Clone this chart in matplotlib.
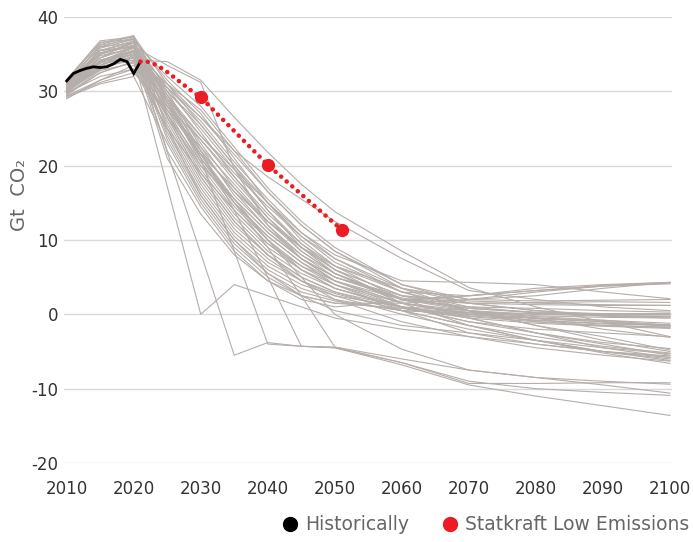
import matplotlib
matplotlib.use("Agg")
import matplotlib.pyplot as plt
from matplotlib.lines import Line2D

plt.rcParams["axes.unicode_minus"] = False

# scenario years
years = [2010, 2015, 2020, 2025, 2030, 2035, 2040, 2045, 2050, 2060, 2070, 2080, 2090, 2100]

# main bundle of scenarios, Gt CO2
bundle_upper = [
    [30.5, 34.0, 35.5, 31.0, 27.5, 22.0, 16.5, 12.0, 8.5, 4.0, 2.0, 2.5, 3.5, 4.3],
    [30.0, 33.5, 35.0, 30.0, 25.5, 20.0, 15.0, 10.5, 7.0, 3.0, 2.5, 3.2, 3.8, 4.1],
    [31.0, 35.0, 36.5, 30.5, 24.5, 18.5, 13.5, 9.5, 6.5, 3.5, 2.0, 1.8, 1.9, 2.0],
    [29.5, 32.5, 34.0, 29.0, 23.5, 18.0, 13.0, 9.0, 6.0, 2.5, 1.5, 1.6, 1.7, 1.6],
    [30.8, 34.5, 36.0, 29.5, 23.0, 17.0, 12.0, 8.0, 5.5, 2.0, 1.5, 1.3, 1.2, 1.2],
    [30.2, 34.5, 36.0, 29.5, 24.0, 19.0, 14.5, 10.5, 7.5, 3.5, 1.5, 0.5, -0.2, -0.5],
    [29.9, 33.0, 34.8, 30.5, 26.0, 20.5, 15.5, 11.0, 7.5, 3.0, 0.5, -1.0, -1.5, -1.8],
    [30.6, 35.8, 37.0, 31.5, 27.0, 21.0, 15.0, 10.0, 6.5, 2.0, -0.5, -2.5, -4.0, -5.5],
    [30.4, 34.5, 36.8, 32.0, 28.0, 22.5, 17.0, 12.5, 9.0, 4.0, 1.5, 0.5, 0.0, 0.0],
    [29.7, 32.5, 34.0, 31.0, 26.5, 21.5, 16.5, 12.0, 8.5, 3.5, 0.5, -1.5, -3.0, -4.8],
    [30.3, 34.0, 35.8, 28.0, 23.5, 18.5, 13.0, 8.5, 5.5, 2.0, 0.8, 0.2, -0.2, -0.3],
    [31.1, 35.5, 36.0, 30.0, 25.0, 19.5, 14.0, 9.5, 6.0, 1.5, -1.5, -3.5, -5.0, -6.2],
    [30.9, 36.3, 37.4, 31.0, 25.5, 20.0, 14.0, 9.0, 5.5, 1.5, 0.2, -0.6, -1.0, -1.4],
]
bundle_mid = [
    [31.2, 36.0, 37.2, 30.0, 22.5, 16.0, 11.5, 8.0, 5.0, 2.2, 0.8, 0.3, 0.1, 0.1],
    [29.0, 31.5, 33.5, 28.0, 22.0, 16.5, 12.5, 9.0, 6.5, 3.0, 1.0, 0.2, -0.2, -0.3],
    [30.2, 33.0, 34.5, 28.5, 21.5, 15.5, 11.0, 7.5, 5.0, 2.0, 0.5, -0.2, -0.4, -0.5],
    [30.6, 35.5, 36.5, 29.0, 21.0, 15.0, 10.5, 7.0, 4.5, 1.5, 0.0, -0.8, -1.3, -1.5],
    [31.5, 36.5, 37.5, 28.5, 20.5, 14.5, 10.0, 6.5, 4.0, 1.0, -0.3, -1.0, -1.5, -1.7],
    [30.0, 34.0, 35.0, 27.5, 20.0, 14.0, 9.5, 6.0, 3.5, 0.8, -0.5, -1.2, -1.6, -1.9],
    [29.8, 32.0, 33.0, 27.0, 19.5, 13.5, 9.0, 6.0, 4.0, 1.5, 0.5, -0.5, -2.0, -3.1],
    [30.4, 34.8, 35.8, 27.0, 19.0, 13.0, 8.5, 5.5, 3.5, 1.0, -1.0, -2.5, -3.8, -4.6],
    [31.0, 35.5, 36.8, 26.5, 18.5, 12.5, 8.0, 5.0, 3.0, 0.5, -1.5, -3.0, -4.3, -5.2],
    [31.0, 36.2, 37.0, 27.5, 21.5, 17.0, 12.5, 9.0, 6.0, 2.5, 0.5, -1.5, -3.5, -5.0],
    [31.6, 36.8, 37.3, 29.0, 22.0, 16.5, 11.5, 7.5, 4.5, 1.0, -1.0, -2.0, -2.5, -3.0],
    [30.0, 33.5, 35.0, 26.5, 20.0, 15.5, 11.0, 7.5, 5.0, 2.5, 1.8, 1.5, 1.3, 1.2],
    [29.4, 31.5, 33.0, 25.0, 19.0, 14.0, 9.5, 6.5, 4.5, 2.0, 2.5, 3.5, 4.0, 4.3],
    [30.8, 35.0, 36.5, 27.0, 20.5, 15.0, 10.0, 6.0, 3.5, 1.0, -0.2, -0.8, -1.2, -1.5],
    [30.1, 33.9, 35.3, 28.5, 21.0, 15.0, 10.5, 7.0, 4.0, 0.5, -2.5, -4.0, -5.0, -5.6],
    [29.3, 31.2, 32.5, 27.5, 22.5, 17.5, 12.5, 8.5, 5.5, 2.0, 1.0, 0.8, 0.5, 0.3],
]
bundle_low = [
    [30.1, 33.2, 34.2, 26.0, 18.0, 12.0, 8.0, 5.0, 3.0, 1.0, -0.5, -2.5, -4.5, -5.8],
    [30.7, 35.0, 36.2, 25.5, 17.5, 11.5, 7.5, 4.5, 2.5, 0.0, -2.0, -3.5, -5.0, -6.0],
    [29.6, 32.8, 33.8, 25.0, 17.0, 11.0, 7.0, 4.5, 2.8, 0.5, -1.5, -3.5, -5.2, -6.6],
    [30.3, 34.2, 35.2, 24.5, 16.5, 10.5, 6.5, 4.0, 2.5, 1.0, 0.5, 0.0, -0.2, -0.3],
    [31.3, 36.0, 36.5, 24.0, 16.0, 10.0, 6.0, 3.5, 2.0, 0.5, 0.2, 0.1, 0.0, -0.1],
    [30.0, 33.8, 35.5, 23.5, 15.5, 9.5, 5.5, 3.0, 1.8, 0.5, 0.0, -0.5, -1.0, -1.6],
    [29.2, 31.0, 32.0, 23.0, 15.0, 9.0, 5.0, 2.5, 1.5, 1.5, 2.0, 3.0, 3.8, 4.2],
    [30.9, 35.2, 36.0, 22.0, 14.5, 8.5, 4.5, 2.0, 1.0, 1.8, 2.5, 3.2, 3.9, 4.3],
    [30.5, 34.0, 35.0, 21.0, 13.5, 8.0, 4.5, 2.5, 1.5, 0.8, 0.3, -0.3, -0.8, -1.5],
    [31.4, 36.6, 37.0, 25.0, 16.0, 10.0, 5.5, 2.5, 0.5, -1.5, -2.5, -3.5, -4.5, -5.3],
    [29.9, 33.3, 34.6, 26.5, 18.5, 12.5, 8.0, 4.5, 2.0, -1.0, -3.0, -4.5, -5.5, -6.3],
]

# scenarios far off the bundle
outliers_high = [
    [30.2, 33.8, 34.2, 34.0, 31.5, 26.5, 21.8, 17.5, 13.8, 8.5, 3.6, 1.0, -1.0, -3.0],
    [30.8, 35.5, 36.0, 33.5, 31.2, 19.6, 12.0, 7.5, 4.5, 1.5, 0.0, -0.5, -0.8, -1.2],
    [30.0, 33.0, 34.8, 30.5, 26.5, 22.0, 18.5, 15.5, 12.5, 7.5, 3.2, 2.0, 1.0, 0.5],
    [30.3, 34.0, 35.5, 29.0, 24.0, 19.5, 15.0, 11.0, 8.0, 4.5, 4.3, 4.0, 3.0, 2.1],
]
outliers_low = [
    [30.5, 34.0, 34.5, 17.2, 0.0, 4.0, 2.5, 1.0, -0.5, -2.0, -3.0, -4.0, -5.0, -5.8],
    [29.8, 33.5, 35.5, 21.8, 8.2, -5.5, -3.8, -4.3, -4.4, -6.0, -7.5, -8.5, -9.5, -10.6],
    [30.0, 34.0, 36.0, 29.0, 21.0, 8.5, -4.0, -4.3, -4.5, -6.5, -9.3, -9.3, -9.2, -9.2],
    [31.0, 35.0, 36.5, 29.5, 22.0, 14.0, 5.0, -4.3, -4.5, -6.8, -9.5, -11.0, -12.3, -13.6],
    [30.2, 34.2, 35.5, 28.5, 21.5, 15.0, 9.0, 2.5, -4.4, -6.5, -9.0, -10.0, -10.5, -10.9],
    [30.6, 35.2, 36.2, 28.0, 21.0, 15.5, 10.0, 5.0, 0.0, -4.7, -7.5, -8.5, -9.0, -9.4],
]

hist_years = [2010, 2011, 2012, 2013, 2014, 2015, 2016, 2017, 2018, 2019, 2020, 2021]
hist_values = [31.4, 32.4, 32.8, 33.1, 33.3, 33.2, 33.3, 33.7, 34.3, 34.0, 32.4, 34.0]

red_years = [2021, 2022, 2023, 2024, 2025, 2026, 2027, 2028, 2029, 2030, 2040, 2051]
red_values = [34.0, 34.0, 33.7, 33.2, 32.6, 31.9, 31.2, 30.5, 29.8, 29.2, 20.1, 11.4]
red_key_years = [2030, 2040, 2051]
red_key_values = [29.2, 20.1, 11.4]

y_ticks = [-20, -10, 0, 10, 20, 30, 40]
x_ticks = [2010, 2020, 2030, 2040, 2050, 2060, 2070, 2080, 2090, 2100]

gray = "#b5aeaa"
red = "#ec1c24"

fig = plt.figure(figsize=(6.93, 5.42), dpi=100)
ax = fig.add_axes([64 / 693, 1 - 463 / 542, (672 - 64) / 693, (463 - 17) / 542])

for group in (bundle_upper, bundle_mid, bundle_low, outliers_high, outliers_low):
    for vals in group:
        ax.plot(years, vals, color=gray, lw=0.8, zorder=2)

ax.plot(hist_years, hist_values, color="black", lw=2.0, zorder=4,
        solid_joinstyle="miter")
ax.plot(red_years, red_values, color=red, lw=3.3, ls=(0, (0.01, 1.6)),
        dash_capstyle="round", zorder=5)
ax.plot(red_key_years, red_key_values, "o", color=red, ms=8.5, zorder=6)

ax.set_xlim(2009.6, 2100.3)
ax.set_ylim(-20, 40)
ax.set_xticks(x_ticks)
ax.set_yticks(y_ticks)
ax.grid(axis="y", color="#d9d9d9", lw=1.0, zorder=0)
ax.set_axisbelow(True)
for s in ax.spines.values():
    s.set_visible(False)
ax.tick_params(axis="x", length=0, pad=12, labelsize=12, labelcolor="#333333")
ax.tick_params(axis="y", length=0, pad=4, labelsize=12, labelcolor="#333333")
ax.set_ylabel("Gt  CO\u2082", fontsize=14, color="#666666")
ax.yaxis.set_label_coords(-0.058, 0.6)

handles = [
    Line2D([], [], ls="none", marker="o", color="black", ms=10),
    Line2D([], [], ls="none", marker="o", color=red, ms=10),
]
fig.legend(handles, ["Historically", "Statkraft Low Emissions"],
           loc="center left", bbox_to_anchor=(262 / 693, 1 - 525 / 542),
           ncol=2, frameon=False, fontsize=13.5, labelcolor="#666666",
           handletextpad=0.2, columnspacing=1.6, handlelength=1.2)

fig.savefig("out.png", dpi=100)
